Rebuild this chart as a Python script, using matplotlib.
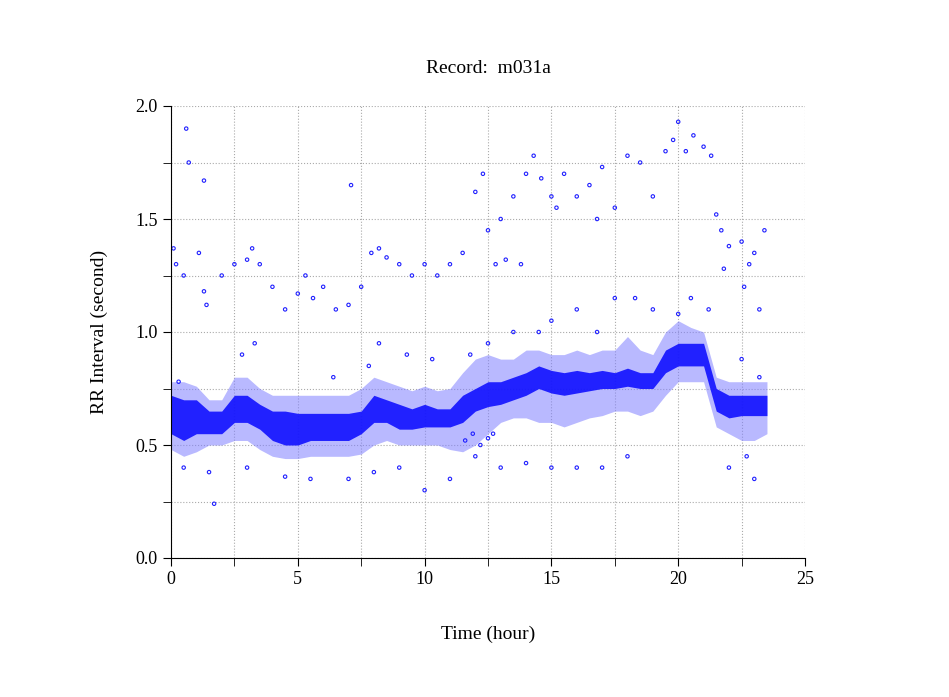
import matplotlib
matplotlib.use("Agg")
import matplotlib.pyplot as plt

plt.rcParams['font.family'] = ['Liberation Serif', 'DejaVu Serif']

hours = [0,0.5,1,1.5,2,2.5,3,3.5,4,4.5,5,5.5,6,6.5,7,7.5,8,8.5,9,9.5,10,10.5,11,11.5,12,12.5,13,13.5,14,14.5,15,15.5,16,16.5,17,17.5,18,18.5,19,19.5,20,20.5,21,21.5,22,22.5,23,23.5]
core_low = [0.55,0.52,0.55,0.55,0.55,0.60,0.60,0.57,0.52,0.50,0.50,0.52,0.52,0.52,0.52,0.55,0.60,0.60,0.57,0.57,0.58,0.58,0.58,0.60,0.65,0.67,0.68,0.70,0.72,0.75,0.73,0.72,0.73,0.74,0.75,0.75,0.76,0.75,0.75,0.82,0.85,0.85,0.85,0.65,0.62,0.63,0.63,0.63]
core_high = [0.72,0.70,0.70,0.65,0.65,0.72,0.72,0.68,0.65,0.65,0.64,0.64,0.64,0.64,0.64,0.65,0.72,0.70,0.68,0.66,0.68,0.66,0.66,0.72,0.75,0.78,0.78,0.80,0.82,0.85,0.83,0.82,0.83,0.82,0.83,0.82,0.84,0.82,0.82,0.92,0.95,0.95,0.95,0.75,0.72,0.72,0.72,0.72]
halo_low = [0.48,0.45,0.47,0.50,0.50,0.52,0.52,0.48,0.45,0.44,0.44,0.45,0.45,0.45,0.45,0.46,0.50,0.52,0.50,0.50,0.50,0.50,0.48,0.47,0.50,0.55,0.60,0.62,0.62,0.60,0.60,0.58,0.60,0.62,0.63,0.65,0.65,0.63,0.65,0.72,0.78,0.78,0.78,0.58,0.55,0.52,0.52,0.55]
halo_high = [0.78,0.78,0.76,0.70,0.70,0.80,0.80,0.75,0.72,0.72,0.72,0.72,0.72,0.72,0.72,0.75,0.80,0.78,0.76,0.74,0.76,0.74,0.75,0.82,0.88,0.90,0.88,0.88,0.92,0.92,0.90,0.90,0.92,0.90,0.92,0.92,0.98,0.92,0.90,1.00,1.05,1.02,1.00,0.80,0.78,0.78,0.78,0.78]

out_x = [0.6,0.7,1.3,7.1,0.1,0.2,0.5,1.1,1.3,1.4,2.0,2.5,3.0,3.2,3.5,4.0,4.5,5.0,5.3,5.6,6.0,6.5,7.0,7.5,7.9,8.2,8.5,9.0,9.5,10.0,10.5,11.0,11.5,12.0,12.3,12.5,13.0,13.5,14.0,14.3,14.6,15.0,15.5,16.0,16.5,17.0,17.5,18.0,18.5,19.0,19.5,19.8,20.0,20.3,20.6,21.0,21.3,21.5,21.7,22.0,22.5,22.8,23.0,23.4,23.2,22.6,21.8,15.2,16.8,13.2,12.8,13.8,
         1.7,0.5,1.5,3.0,4.5,5.5,7.0,8.0,9.0,10.0,11.0,12.0,13.0,14.0,15.0,16.0,17.0,18.0,22.0,23.0,22.7,
         0.3,2.8,3.3,6.4,7.8,8.2,9.3,10.3,11.8,12.5,13.5,14.5,15.0,16.0,16.8,17.5,18.3,19.0,20.0,20.5,21.2,22.5,23.2,
         11.6,11.9,12.2,12.5,12.7]
out_y = [1.90,1.75,1.67,1.65,1.37,1.30,1.25,1.35,1.18,1.12,1.25,1.30,1.32,1.37,1.30,1.20,1.10,1.17,1.25,1.15,1.20,1.10,1.12,1.20,1.35,1.37,1.33,1.30,1.25,1.30,1.25,1.30,1.35,1.62,1.70,1.45,1.50,1.60,1.70,1.78,1.68,1.60,1.70,1.60,1.65,1.73,1.55,1.78,1.75,1.60,1.80,1.85,1.93,1.80,1.87,1.82,1.78,1.52,1.45,1.38,1.40,1.30,1.35,1.45,1.10,1.20,1.28,1.55,1.50,1.32,1.30,1.30,
         0.24,0.40,0.38,0.40,0.36,0.35,0.35,0.38,0.40,0.30,0.35,0.45,0.40,0.42,0.40,0.40,0.40,0.45,0.40,0.35,0.45,
         0.78,0.90,0.95,0.80,0.85,0.95,0.90,0.88,0.90,0.95,1.00,1.00,1.05,1.10,1.00,1.15,1.15,1.10,1.08,1.15,1.10,0.88,0.80,
         0.52,0.55,0.50,0.53,0.55]

fig = plt.figure(figsize=(9.49, 6.97), dpi=100)
ax = fig.add_axes([171/949, 1-558/697, 634/949, 452/697])
ax.fill_between(hours, halo_low, halo_high, color='#8080ff', alpha=0.55, lw=0)
ax.fill_between(hours, core_low, core_high, color='#1010ff', alpha=0.9, lw=0)
ax.scatter(out_x, out_y, s=6, facecolors='none', edgecolors='#2020ff', linewidths=0.8)

ax.set_xlim(0, 25)
ax.set_ylim(0, 2.0)
ax.set_xticks([0,5,10,15,20,25])
ax.set_xticks([2.5,7.5,12.5,17.5,22.5], minor=True)
ax.set_yticks([0,0.5,1.0,1.5,2.0])
ax.set_yticks([0.25,0.75,1.25,1.75], minor=True)
ax.set_yticklabels(['0.0','0.5','1.0','1.5','2.0'])
ax.grid(True, which='both', linestyle=':', color='#aaaaaa', lw=0.8)
ax.set_axisbelow(True)
for s in ['top','right']:
    ax.spines[s].set_visible(False)
ax.tick_params(direction='out', length=6, labelsize=13)
ax.tick_params(which='minor', direction='out', length=6)
ax.set_xlabel('Time (hour)', fontsize=14, labelpad=27)
ax.set_ylabel('RR Interval (second)', fontsize=14, labelpad=20)
ax.set_title('Record:  m031a', fontsize=14, pad=24)
fig.savefig('out.png', dpi=100)
